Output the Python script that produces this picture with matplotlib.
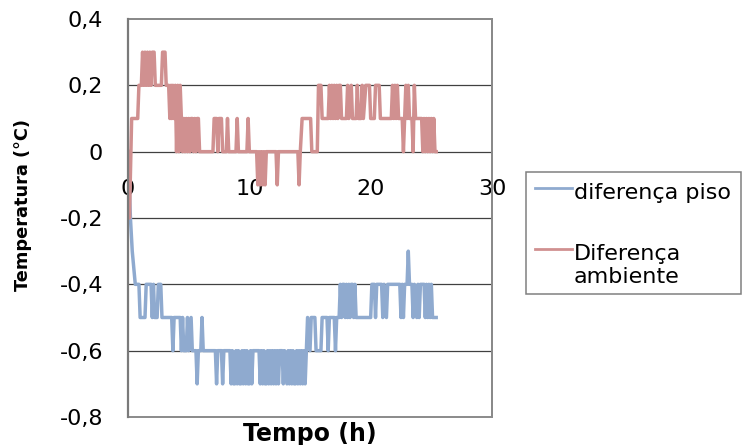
import matplotlib
matplotlib.use("Agg")
import matplotlib.pyplot as plt
from matplotlib.patches import Rectangle
from matplotlib.lines import Line2D

# ---------------- data ----------------
piso_t = [0.0, 0.1, 0.2, 0.35, 0.6, 0.9, 1.0, 1.4, 1.5, 1.9, 2.0, 2.1, 2.2, 2.4, 2.5, 2.7, 2.8,
          3.6, 3.7, 3.8, 4.3, 4.4, 4.5, 4.6, 4.8, 4.9, 5.0, 5.2, 5.3, 5.6, 5.7, 5.8, 6.0, 6.1, 6.2,
          7.2, 7.3, 7.4, 7.7, 7.8, 7.9, 8.4, 8.5, 8.6, 8.7, 8.8, 8.9, 9.0, 9.1, 9.2, 9.3, 9.4, 9.5,
          9.6, 9.7, 9.8, 9.9, 10.0, 10.1, 10.2, 10.3, 10.8, 10.9, 11.0, 11.1, 11.2, 11.3, 11.4, 11.5,
          11.6, 11.7, 11.8, 11.9, 12.0, 12.1, 12.2, 12.3, 12.4, 12.5, 12.7, 12.8, 12.9, 13.1, 13.2,
          13.3, 13.4, 13.5, 13.6, 13.7, 13.8, 13.9, 14.0, 14.1, 14.2, 14.3, 14.4, 14.5, 14.6, 14.7,
          14.8, 15.0, 15.1, 15.4, 15.5, 15.9, 16.0, 16.4, 16.5, 16.6, 17.0, 17.1, 17.2, 17.4, 17.5,
          17.6, 17.7, 17.8, 17.9, 18.0, 18.1, 18.2, 18.3, 18.4, 18.5, 18.6, 18.7, 18.8, 20.0, 20.1,
          20.3, 20.4, 20.5, 20.9, 21.0, 21.1, 21.3, 21.4, 22.4, 22.5, 22.6, 22.7, 22.8, 23.0, 23.1,
          23.2, 23.4, 23.5, 23.6, 23.8, 23.9, 24.0, 24.1, 24.4, 24.5, 24.6, 24.7, 24.8, 24.9, 25.0,
          25.1, 25.4]
piso_v = [0.0, -0.1, -0.2, -0.3, -0.4, -0.4, -0.5, -0.5, -0.4, -0.4, -0.5, -0.4, -0.5, -0.5, -0.4, -0.4, -0.5,
          -0.5, -0.6, -0.5, -0.5, -0.6, -0.5, -0.6, -0.6, -0.5, -0.6, -0.5, -0.6, -0.6, -0.7, -0.6, -0.6, -0.5, -0.6,
          -0.6, -0.7, -0.6, -0.6, -0.7, -0.6, -0.6, -0.7, -0.6, -0.7, -0.7, -0.6, -0.7, -0.6, -0.7, -0.7, -0.6, -0.7,
          -0.6, -0.7, -0.6, -0.7, -0.7, -0.6, -0.7, -0.6, -0.6, -0.7, -0.6, -0.7, -0.6, -0.7, -0.7, -0.6,
          -0.7, -0.6, -0.7, -0.6, -0.7, -0.6, -0.7, -0.6, -0.7, -0.6, -0.6, -0.7, -0.6, -0.7, -0.6,
          -0.7, -0.6, -0.7, -0.6, -0.7, -0.7, -0.6, -0.7, -0.6, -0.7, -0.6, -0.7, -0.6, -0.7, -0.6,
          -0.5, -0.6, -0.5, -0.5, -0.6, -0.6, -0.5, -0.5, -0.6, -0.5, -0.5, -0.6, -0.5, -0.5, -0.4,
          -0.5, -0.4, -0.4, -0.5, -0.4, -0.5, -0.4, -0.5, -0.4, -0.4, -0.5, -0.4, -0.5, -0.5, -0.4,
          -0.4, -0.5, -0.4, -0.4, -0.5, -0.4, -0.5, -0.4, -0.4, -0.5, -0.4, -0.5, -0.4, -0.4, -0.3,
          -0.4, -0.4, -0.5, -0.4, -0.5, -0.4, -0.5, -0.4, -0.4, -0.5, -0.4, -0.5, -0.4, -0.5, -0.4,
          -0.5, -0.5]

amb_t = [0.0, 0.12, 0.3, 0.8, 0.9, 1.1, 1.2, 1.3, 1.4, 1.5, 1.6, 1.7, 1.8, 1.9, 2.0, 2.15, 2.25,
         2.75, 2.85, 3.05, 3.15, 3.35, 3.45, 3.55, 3.6, 3.7, 3.8, 3.9, 4.0, 4.1, 4.2, 4.3, 4.4, 4.5,
         4.6, 4.7, 4.8, 4.9, 5.0, 5.1, 5.2, 5.3, 5.4, 5.5, 5.6, 5.7, 5.8, 5.9, 7.0, 7.1, 7.3, 7.4,
         7.5, 7.7, 7.8, 8.1, 8.2, 8.3, 8.9, 9.0, 9.1, 9.8, 9.9, 10.0, 10.6, 10.7, 10.8, 10.9, 11.0,
         11.1, 11.2, 11.3, 11.4, 12.2, 12.3, 12.4, 14.0, 14.1, 14.2, 14.35, 15.05, 15.15, 15.6, 15.7,
         15.9, 16.0, 16.5, 16.6, 16.7, 16.8, 16.9, 17.0, 17.1, 17.2, 17.3, 17.4, 17.5, 17.6, 18.0,
         18.1, 18.2, 18.4, 18.5, 18.8, 18.9, 19.0, 19.2, 19.3, 19.4, 19.6, 19.9, 20.0, 20.3, 20.4,
         20.7, 20.8, 21.7, 21.8, 21.9, 22.0, 22.1, 22.2, 22.3, 22.6, 22.7, 22.8, 22.9, 23.0, 23.1,
         23.2, 23.4, 23.5, 23.6, 23.7, 24.2, 24.3, 24.4, 24.5, 24.6, 24.7, 24.8, 24.9, 25.0, 25.1,
         25.2, 25.3, 25.4]
amb_v = [0.0, -0.2, 0.1, 0.1, 0.2, 0.2, 0.3, 0.2, 0.3, 0.2, 0.3, 0.2, 0.3, 0.2, 0.3, 0.3, 0.2,
         0.2, 0.3, 0.3, 0.2, 0.2, 0.1, 0.2, 0.1, 0.2, 0.1, 0.2, 0.0, 0.2, 0.0, 0.2, 0.1, 0.0,
         0.1, 0.0, 0.1, 0.0, 0.1, 0.0, 0.1, 0.1, 0.0, 0.1, 0.0, 0.1, 0.1, 0.0, 0.0, 0.1, 0.1, 0.0,
         0.1, 0.1, 0.0, 0.0, 0.1, 0.0, 0.0, 0.1, 0.0, 0.0, 0.1, 0.0, 0.0, -0.1, 0.0, -0.1, 0.0,
         -0.1, 0.0, -0.1, 0.0, 0.0, -0.1, 0.0, 0.0, -0.1, 0.0, 0.1, 0.1, 0.0, 0.0, 0.2,
         0.2, 0.1, 0.1, 0.2, 0.1, 0.2, 0.1, 0.2, 0.1, 0.2, 0.1, 0.2, 0.2, 0.1, 0.1,
         0.2, 0.1, 0.2, 0.1, 0.1, 0.2, 0.1, 0.1, 0.2, 0.1, 0.2, 0.2, 0.1, 0.1, 0.2,
         0.2, 0.1, 0.1, 0.2, 0.1, 0.2, 0.1, 0.2, 0.1, 0.1, 0.0, 0.1, 0.2, 0.1, 0.2,
         0.1, 0.1, 0.0, 0.2, 0.1, 0.1, 0.0, 0.1, 0.0, 0.1, 0.0, 0.1, 0.0, 0.1, 0.0,
         0.1, 0.0, 0.0]

y_ticks = [0.4, 0.2, 0.0, -0.2, -0.4, -0.6, -0.8]
y_tick_labels = ["0,4", "0,2", "0", "-0,2", "-0,4", "-0,6", "-0,8"]
x_ticks = [0, 10, 20, 30]
x_tick_labels = ["0", "10", "20", "30"]
series_labels = ["diferença piso", "Diferença\nambiente"]
x_title = "Tempo (h)"
y_title = "Temperatura (°C)"

# ---------------- figure ----------------
plt.rcParams['font.family'] = ['DejaVu Sans']
W, H = 744, 445
fig = plt.figure(figsize=(W / 100, H / 100), dpi=100)
ax = fig.add_axes([128 / W, 1 - 417 / H, (492 - 128) / W, (417 - 19) / H])

blue = '#8FAACF'
red = '#D09090'

ax.plot(piso_t, piso_v, color=blue, lw=2.5, zorder=3)
ax.plot(amb_t, amb_v, color=red, lw=2.5, zorder=3)

ax.set_xlim(0, 30)
ax.set_ylim(-0.8, 0.4)

# interior gridlines
for v in y_ticks:
    if -0.8 < v < 0.4:
        ax.axhline(v, color='#404040', lw=0.9, zorder=1)

ax.set_yticks(y_ticks)
ax.set_yticklabels(y_tick_labels, fontsize=16)
ax.tick_params(axis='y', length=0, pad=18)

ax.spines['bottom'].set_position(('data', 0))
ax.spines['bottom'].set_visible(False)
ax.set_xticks(x_ticks)
ax.set_xticklabels(x_tick_labels, fontsize=16)
ax.tick_params(axis='x', length=0, pad=20)

for s in ['top', 'right']:
    ax.spines[s].set_color('#8a8a8a')
    ax.spines[s].set_linewidth(1.2)
ax.spines['left'].set_color('#7a7a7a')
ax.spines['left'].set_linewidth(1.6)
ax.add_patch(Rectangle((0, 0), 1, 1, transform=ax.transAxes, fill=False,
                       edgecolor='#8a8a8a', lw=1.4, zorder=4, clip_on=False))
ax.spines['left'].set_zorder(5)

fig.text(23 / W, 1 - 205 / H, y_title, rotation=90, ha='center', va='center',
         fontsize=12.8, fontweight='bold')
fig.text(310 / W, 1 - 441 / H, x_title, ha='center', va='baseline',
         fontsize=17, fontweight='bold')

# ---------------- legend (drawn in figure pixels) ----------------
def fx(px):
    return px / W

def fy(py):
    return 1 - py / H

fig.add_artist(Rectangle((fx(526), fy(294)), fx(741) - fx(526), fy(172) - fy(294),
                         transform=fig.transFigure, fill=False, edgecolor='#808080', lw=1.1))
leg_fs = 16
fig.add_artist(Line2D([fx(535), fx(572)], [fy(188), fy(188)], color=blue, lw=2.0,
                      transform=fig.transFigure))
fig.text(fx(574), fy(199), series_labels[0], fontsize=leg_fs, va='baseline', ha='left')
fig.add_artist(Line2D([fx(535), fx(572)], [fy(249), fy(249)], color=red, lw=2.0,
                      transform=fig.transFigure))
first, second = series_labels[1].split("\n")
fig.text(fx(574), fy(260), first, fontsize=leg_fs, va='baseline', ha='left')
fig.text(fx(574), fy(283), second, fontsize=leg_fs, va='baseline', ha='left')

fig.savefig('out.png', dpi=100)
